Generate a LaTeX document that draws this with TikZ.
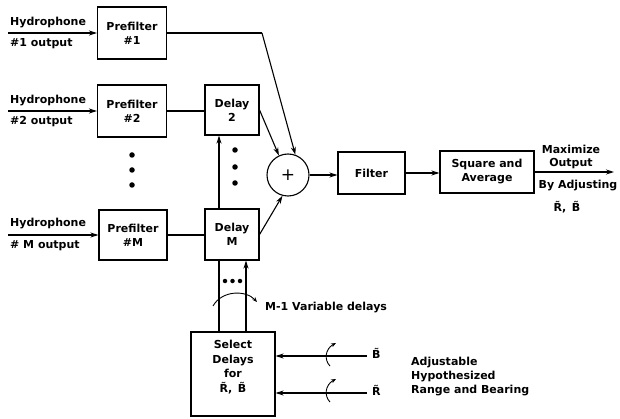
\documentclass[tikz,border=0pt]{standalone}
\usepackage{fontspec}
\setmainfont{DejaVu Sans}
\usetikzlibrary{arrows.meta,calc}

\newcommand{\hypR}{\~R}
\newcommand{\hypB}{\~B}

\begin{document}
\begin{tikzpicture}[x=1pt,y=-1pt,font=\fontsize{11}{14}\selectfont\bfseries,
  blk/.style={draw,line width=1.1pt,inner sep=0pt,align=center},
  wire/.style={line width=1.1pt},
  sig/.style={wire,-{Stealth[length=8pt,width=5pt]}},
  tune/.style={line width=0.9pt,-{Stealth[length=5pt,width=4pt]}},
  dot/.style={circle,fill,inner sep=0pt,minimum size=5.5pt},
  lbl/.style={inner sep=0pt,anchor=west,align=left}]
  \useasboundingbox (0,0) rectangle (620,419);

  % prefilters
  \node[blk,minimum width=69pt,minimum height=52pt] (pf1) at (132,33) {Prefilter\\\#1};
  \node[blk,minimum width=69pt,minimum height=52pt] (pf2) at (132,111) {Prefilter\\\#2};
  \node[blk,minimum width=68pt,minimum height=50pt] (pfM) at (133,235) {Prefilter\\\#M};

  % hydrophone inputs
  \coordinate (h1) at (8,33);
  \coordinate (h2) at (8,111);
  \coordinate (hM) at (8,235);
  \node[lbl] (h1a) at (10,23) {Hydrophone};
  \node[lbl] (h1b) at (10,44) {\#1 output};
  \node[lbl] (h2a) at (10,101) {Hydrophone};
  \node[lbl] (h2b) at (10,122) {\#2 output};
  \node[lbl] (hMa) at (10,224) {Hydrophone};
  \node[lbl] (hMb) at (10,246) {\# M output};
  \draw[sig] (h1) -- (pf1.west);
  \draw[sig] (h2) -- (pf2.west);
  \draw[sig] (hM) -- (pfM.west);

  % delays and summer
  \node[blk,minimum width=54pt,minimum height=50pt] (d2) at (232,110) {Delay\\2};
  \node[blk,minimum width=54pt,minimum height=51pt] (dM) at (232,234.5) {Delay\\M};
  \node[blk,circle,minimum size=42pt,font=\fontsize{17}{17}\selectfont] (sum) at (288,175) {+};

  \foreach \y in {155,170,185} \node[dot] (pd\y) at (132,\y) {};
  \foreach \y in {150,167,183} \node[dot] (dd\y) at (235,\y) {};

  \coordinate (bend) at (262,33);
  \draw[wire] (pf1.east) -- (bend);
  \draw[sig] (bend) -- (sum.70);
  \draw[wire] (pf2.east) -- (pf2.east -| d2.west);
  \draw[wire] (pfM.east) -- (pfM.east -| dM.west);
  \draw[sig] (d2.east) -- (sum.115);
  \draw[sig] (dM.east) -- (sum.255);
  \draw[sig] ([xshift=-13pt]dM.north) -- ([xshift=-13pt]d2.south);

  % filter chain
  \node[blk,minimum width=67pt,minimum height=42pt] (filt) at (371.5,173) {Filter};
  \node[blk,minimum width=94pt,minimum height=42pt] (sqav) at (487,172) {Square and\\Average};
  \coordinate (out) at (614,172);
  \draw[sig] (sum.east) -- (sum.east -| filt.west);
  \draw[sig] (filt.east) -- (filt.east -| sqav.west);
  \draw[sig] (sqav.east) -- (out);
  \node[inner sep=0pt,align=center,font=\fontsize{11}{13}\selectfont\bfseries] (maxo) at (571,156.5) {Maximize\\Output};
  \node[inner sep=0pt] (byadj) at (578,186) {By Adjusting};
  \node[inner sep=0pt] (adjrb) at (567,207) {\hypR,\enspace\hypB};

  % delay selection
  \node[blk,minimum width=84pt,minimum height=84pt] (sel) at (233,374) {};
  \node[inner sep=0pt,align=center,font=\fontsize{11}{14.5}\selectfont\bfseries] (seltxt) at (233,367) {Select\\Delays\\for\\\hypR,\enspace\hypB};
  \draw[wire] ([xshift=-14pt]sel.north) -- ([xshift=-13pt]dM.south);
  \draw[sig] ([xshift=13pt]sel.north) -- ([xshift=14pt]dM.south);
  \foreach \x in {225,232.5,240} \node[dot,minimum size=4.5pt] (vd\x) at (\x,281) {};
  \draw[tune] (213,306) .. controls (222,290) and (246,290) .. (257,302);
  \node[lbl] (vardel) at (265,308) {M-1 Variable delays};

  \coordinate (inB) at (367,356);
  \coordinate (inR) at (367,393);
  \draw[sig] (inB) -- (inB -| sel.east);
  \draw[sig] (inR) -- (inR -| sel.east);
  \draw[tune] (330,366) .. controls (324,360) and (325,349) .. (336,343);
  \draw[tune] (330,402) .. controls (324,396) and (325,385) .. (336,379);
  \node[lbl] (labB) at (372,353) {\hypB};
  \node[lbl] (labR) at (372,390) {\hypR};
  \node[lbl] (adjtxt) at (411,377) {Adjustable\\Hypothesized\\Range and Bearing};
\end{tikzpicture}
\end{document}
